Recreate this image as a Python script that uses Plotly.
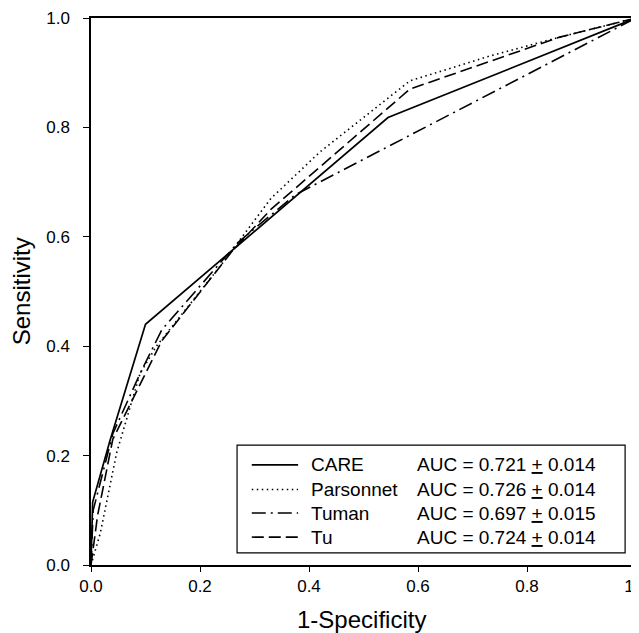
import plotly.graph_objects as go

# ---- data ----
care_x = [0, 0.003, 0.035, 0.10, 0.545, 1.0]
care_y = [0, 0.115, 0.228, 0.44, 0.818, 1.0]

pars_x = [0, 0.017, 0.047, 0.09, 0.12, 0.24, 0.33, 0.42, 0.585, 0.73, 0.86, 1.0]
pars_y = [0, 0.058, 0.205, 0.35, 0.40, 0.55, 0.67, 0.755, 0.885, 0.93, 0.965, 1.0]

tuman_x = [0, 0.004, 0.04, 0.09, 0.13, 0.27, 0.375, 1.0]
tuman_y = [0, 0.10, 0.24, 0.35, 0.43, 0.59, 0.677, 1.0]

tu_x = [0, 0.012, 0.04, 0.13, 0.26, 0.33, 0.585, 0.86, 1.0]
tu_y = [0, 0.09, 0.23, 0.41, 0.575, 0.65, 0.87, 0.965, 1.0]

names = ["CARE", "Parsonnet", "Tuman", "Tu"]
auc_text = ["AUC = 0.721 <u>+</u> 0.014", "AUC = 0.726 <u>+</u> 0.014",
            "AUC = 0.697 <u>+</u> 0.015", "AUC = 0.724 <u>+</u> 0.014"]
ticks = [0.0, 0.2, 0.4, 0.6, 0.8, 1.0]
tick_labels = ["0.0", "0.2", "0.4", "0.6", "0.8", "1.0"]

FONT = "Liberation Sans, Arial, Helvetica, sans-serif"
dashes = ["solid", "1.5px,3.5px", "14px,5px,2px,5px", "12px,5px"]
widths = [1.7, 1.6, 1.6, 1.6]

fig = go.Figure()
series = [(care_x, care_y), (pars_x, pars_y), (tuman_x, tuman_y), (tu_x, tu_y)]
for (xs, ys), nm, d, w in zip(series, names, dashes, widths):
    fig.add_trace(go.Scatter(x=xs, y=ys, mode="lines", name=nm, showlegend=False,
                             line=dict(color="black", width=w, dash=d)))

# manual legend box (paper coordinates)
shapes = [dict(type="rect", xref="paper", yref="paper", x0=0.268, x1=0.980, y0=0.022, y1=0.219,
               line=dict(color="black", width=1.2), fillcolor="white", layer="above")]
row_y = [0.183, 0.138, 0.095, 0.051]
annotations = []
for i, nm in enumerate(names):
    shapes.append(dict(type="line", xref="paper", yref="paper", x0=0.295, x1=0.380,
                       y0=row_y[i], y1=row_y[i], layer="above",
                       line=dict(color="black", width=widths[i], dash=dashes[i])))
    annotations.append(dict(xref="paper", yref="paper", x=0.400, y=row_y[i], text=nm,
                            xanchor="left", yanchor="middle", showarrow=False,
                            font=dict(family=FONT, size=19, color="black")))
    annotations.append(dict(xref="paper", yref="paper", x=0.594, y=row_y[i], text=auc_text[i],
                            xanchor="left", yanchor="middle", showarrow=False,
                            font=dict(family=FONT, size=19, color="black")))

annotations.append(dict(xref="paper", yref="paper", x=0.497, y=-0.099, text="1-Specificity",
                        xanchor="center", yanchor="middle", showarrow=False,
                        font=dict(family=FONT, size=24, color="black")))
annotations.append(dict(xref="paper", yref="paper", x=-0.127, y=0.5, text="Sensitivity",
                        xanchor="center", yanchor="middle", showarrow=False, textangle=-90,
                        font=dict(family=FONT, size=24, color="black")))

axis_common = dict(range=[0, 1], tickvals=ticks, ticktext=tick_labels, showgrid=False,
                   zeroline=False, showline=True, linecolor="black", linewidth=1.5,
                   mirror=True, ticks="outside", tickcolor="black", tickwidth=1.2,
                   automargin=False, ticklabeloverflow="allow",
                   tickfont=dict(family=FONT, size=17, color="black"))

# the page body adds an 8px offset; figure sized so the plot sits where the reference has it
fig.update_layout(
    width=631, height=625,
    margin=dict(l=83, r=3, t=10, b=68, autoexpand=False),
    paper_bgcolor="white", plot_bgcolor="white",
    xaxis=dict(**axis_common, ticklen=5),
    yaxis=dict(**axis_common, ticklen=6, ticklabelstandoff=10),
    shapes=shapes, annotations=annotations,
)

fig.write_html("out.html")
